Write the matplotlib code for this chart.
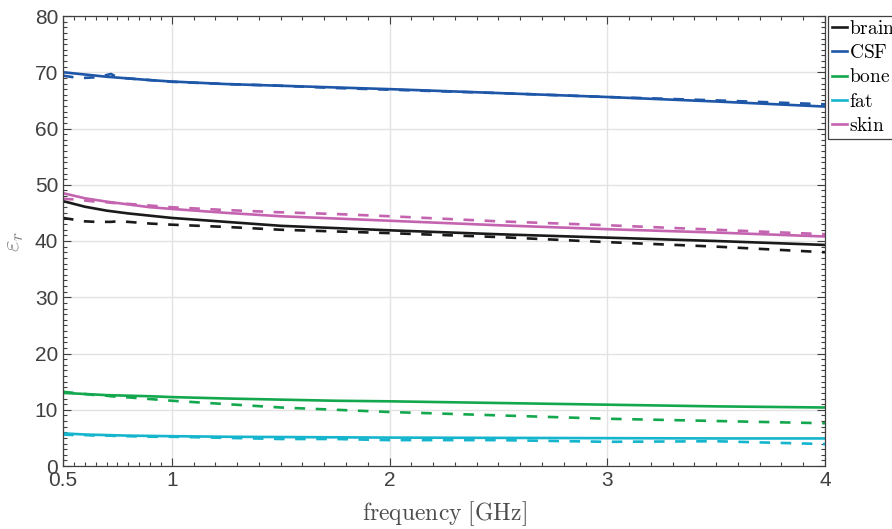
import matplotlib
matplotlib.use("Agg")
import matplotlib.pyplot as plt
from matplotlib.ticker import FixedLocator
import numpy as np

plt.rcParams['mathtext.fontset'] = 'cm'
plt.rcParams['font.family'] = ['Liberation Sans', 'DejaVu Sans']

# model (solid) frequencies [GHz]
f_model = [0.5, 0.6, 0.7, 0.8, 0.9, 1.0, 1.25, 1.5, 1.75, 2.0, 2.5, 3.0, 3.5, 4.0]
# measured (dashed) frequencies [GHz]
f_meas = [0.5, 0.55, 0.6, 0.65, 0.7, 0.72, 0.75, 0.8, 0.9, 1.0,
          1.25, 1.5, 1.75, 2.0, 2.5, 3.0, 3.5, 4.0]

tissues = ['brain', 'CSF', 'bone', 'fat', 'skin']
colors = ['#1a1a1a', '#1f57a8', '#14a84e', '#14b5cd', '#c464b0']

brain_model = [47.1, 46.1, 45.4, 44.9, 44.5, 44.1, 43.4, 42.7, 42.3, 41.9, 41.2, 40.6, 40.0, 39.3]
csf_model = [70.0, 69.6, 69.2, 68.9, 68.6, 68.35, 67.9, 67.6, 67.3, 67.0, 66.3, 65.6, 64.8, 63.9]
bone_model = [13.0, 12.8, 12.6, 12.5, 12.4, 12.25, 12.0, 11.8, 11.6, 11.5, 11.2, 10.9, 10.6, 10.4]
fat_model = [5.8, 5.6, 5.5, 5.4, 5.35, 5.3, 5.2, 5.15, 5.1, 5.05, 5.0, 4.95, 4.9, 4.9]
skin_model = [48.5, 47.6, 47.0, 46.5, 46.0, 45.7, 45.0, 44.4, 44.0, 43.6, 42.8, 42.1, 41.5, 40.8]

brain_meas = [44.1, 43.8, 43.5, 43.4, 43.4, 43.4, 43.5, 43.4, 43.1, 42.9,
              42.5, 42.0, 41.7, 41.4, 40.7, 39.8, 39.0, 38.0]
csf_meas = [69.4, 69.1, 69.0, 69.1, 69.5, 69.7, 69.1, 68.9, 68.6, 68.3,
            67.9, 67.6, 67.2, 66.9, 66.3, 65.6, 65.0, 64.3]
bone_meas = [13.2, 13.0, 12.8, 12.6, 12.5, 12.4, 12.3, 12.2, 11.9, 11.6,
             11.0, 10.4, 10.0, 9.6, 9.0, 8.4, 8.0, 7.6]
fat_meas = [5.6, 5.5, 5.5, 5.4, 5.4, 5.4, 5.3, 5.3, 5.2, 5.2,
            5.0, 4.8, 4.8, 4.6, 4.6, 4.3, 4.4, 3.9]
skin_meas = [47.5, 47.4, 47.2, 47.0, 46.9, 46.8, 46.7, 46.6, 46.3, 46.0,
             45.5, 45.1, 44.8, 44.4, 43.5, 42.8, 42.0, 41.2]

model = [brain_model, csf_model, bone_model, fat_model, skin_model]
meas = [brain_meas, csf_meas, bone_meas, fat_meas, skin_meas]

fig = plt.figure(figsize=(8.92, 5.29), dpi=100)
ax = fig.add_axes([63 / 892, 63 / 529, (825 - 63) / 892, (466 - 16) / 529])

lines = []
for name, c, ym, yd in zip(tissues, colors, model, meas):
    l, = ax.plot(f_model, ym, color=c, lw=1.9, label=r'$\mathrm{%s}$' % name)
    ax.plot(f_meas, yd, color=c, lw=1.9, ls=(0, (4, 4)))
    lines.append(l)

ax.set_xlim(0.5, 4)
ax.set_ylim(0, 80)
ax.set_xticks([0.5, 1, 2, 3, 4])
ax.set_xticklabels(['0.5', '1', '2', '3', '4'])
ax.set_yticks(np.arange(0, 81, 10))
minor_x = list(np.arange(0.55, 1.0, 0.05)) + list(np.arange(1.1, 4.0, 0.1))
ax.xaxis.set_minor_locator(FixedLocator(minor_x))
ax.yaxis.set_minor_locator(FixedLocator(np.arange(0, 81, 1)))

ax.grid(True, which='major', color='#e3e3e3', lw=1.0)
ax.set_axisbelow(True)
ax.tick_params(which='both', direction='in', top=True, right=True,
               colors='#404040', labelcolor='#404040', labelsize=15)
ax.tick_params(which='major', length=6, width=0.8)
ax.tick_params(which='minor', length=3, width=0.8)
for s in ax.spines.values():
    s.set_color('#404040')
    s.set_linewidth(0.9)

ax.set_xlabel(r'$\mathrm{frequency\ [GHz]}$', fontsize=17, color='#4d4d4d', labelpad=7)
ax.set_ylabel(r'$\varepsilon_r$', fontsize=18, color='#808080', labelpad=6)

leg = ax.legend(handles=lines, loc='upper left', bbox_to_anchor=(1.004, 1.0),
                borderaxespad=0, fontsize=14, handlelength=0.8, handletextpad=0.08,
                labelspacing=0.32, borderpad=0.2, fancybox=False, framealpha=1)
leg.get_frame().set_edgecolor('#404040')
leg.get_frame().set_linewidth(0.9)

fig.savefig('out.png', dpi=100)
